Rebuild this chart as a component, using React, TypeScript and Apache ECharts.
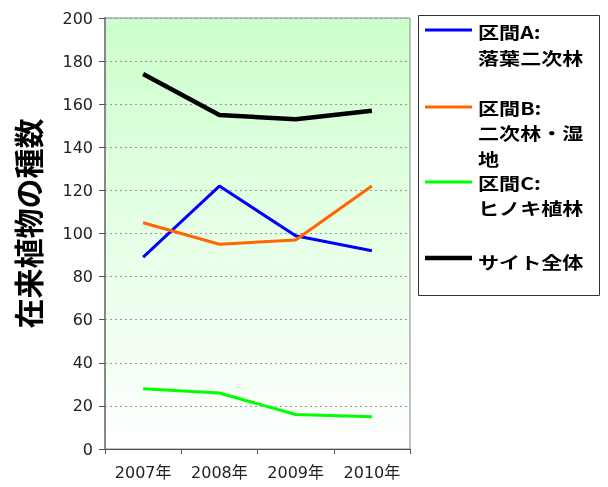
import React, { useEffect, useRef } from "react";
import * as echarts from "echarts";

const categories = ["2007年", "2008年", "2009年", "2010年"];
const seriesNames = ["区間A:\n落葉二次林", "区間B:\n二次林・湿\n地", "区間C:\nヒノキ植林", "サイト全体"];
const valuesA = [89, 122, 99, 92];
const valuesB = [105, 95, 97, 122];
const valuesC = [28, 26, 16, 15];
const valuesAll = [174, 155, 153, 157];
const seriesColors = ["#0000ff", "#ff6600", "#00ff00", "#000000"];
const seriesWidths = [3, 3, 3, 4.5];
const yTicks = { min: 0, max: 200, interval: 20 };
const yAxisName = "在来植物の種数";

const FONT = "'Noto Sans CJK JP', 'Noto Sans', sans-serif";
const NUMFONT = "'DejaVu Sans', 'Noto Sans CJK JP', sans-serif";

export default function App() {
  const ref = useRef<HTMLDivElement>(null);
  useEffect(() => {
    if (!ref.current) return;
    const chart = echarts.init(ref.current, null, { renderer: "svg" });
    const data = [valuesA, valuesB, valuesC, valuesAll];
    const lineYs = [30, 107, 182, 258];
    const textYs = [32, 107.5, 182.5, 261.5];
    const pitch = 25.5;
    const legendChildren: any[] = [];
    seriesNames.forEach((n, i) => {
      legendChildren.push({
        type: "line",
        shape: { x1: 425, y1: lineYs[i], x2: 472, y2: lineYs[i] },
        style: { stroke: seriesColors[i], lineWidth: seriesWidths[i] },
      });
      n.split("\n").forEach((ln, k) => {
        legendChildren.push({
          type: "text",
          x: 478,
          y: textYs[i] + k * pitch,
          scaleX: 1.27,
          scaleY: 1.02,
          style: {
            text: ln,
            font: `bold 16.6px ${FONT}`,
            fill: "#000",
            textVerticalAlign: "middle",
            textAlign: "left",
          },
        });
      });
    });
    chart.setOption({
      animation: false,
      grid: {
        left: 105,
        top: 18,
        right: 198,
        bottom: 38,
        show: true,
        borderColor: "#888",
        borderWidth: 1,
        backgroundColor: new echarts.graphic.LinearGradient(0, 0, 0, 1, [
          { offset: 0, color: "#ccffcc" },
          { offset: 1, color: "#ffffff" },
        ]),
      },
      xAxis: {
        type: "category",
        data: categories,
        boundaryGap: true,
        axisLine: { lineStyle: { color: "#555", width: 1 } },
        axisTick: { show: true, length: 5, lineStyle: { color: "#555" }, inside: false },
        axisLabel: { color: "#222", fontSize: 16, margin: 15, fontFamily: NUMFONT },
      },
      yAxis: {
        type: "value",
        min: yTicks.min,
        max: yTicks.max,
        interval: yTicks.interval,
        name: yAxisName,
        nameLocation: "middle",
        nameGap: 63,
        nameRotate: 90,
        nameTextStyle: {
          fontSize: 30,
          fontWeight: "bold",
          color: "#000",
          fontFamily: FONT,
          padding: [0, 0, 0, 20],
        },
        axisLine: { show: true, lineStyle: { color: "#888", width: 2 } },
        axisTick: { show: true, length: 6, lineStyle: { color: "#555" } },
        axisLabel: { color: "#222", fontSize: 16, margin: 12, fontFamily: NUMFONT },
        splitLine: { show: true, lineStyle: { color: "#999", type: [2, 3], width: 1 } },
      },
      series: data.map((d, i) => ({
        type: "line",
        name: seriesNames[i],
        data: d,
        symbol: "none",
        lineStyle: { color: seriesColors[i], width: seriesWidths[i] },
        itemStyle: { color: seriesColors[i] },
        z: i === 3 ? 5 : 3,
      })),
      graphic: [
        {
          type: "rect",
          shape: { x: 418.5, y: 15.5, width: 181, height: 280 },
          style: { fill: "#fff", stroke: "#333", lineWidth: 1 },
        },
        { type: "group", children: legendChildren },
      ],
    });
    return () => chart.dispose();
  }, []);
  return <div ref={ref} style={{ position: "fixed", left: 0, top: 0, width: 608, height: 487 }} />;
}
